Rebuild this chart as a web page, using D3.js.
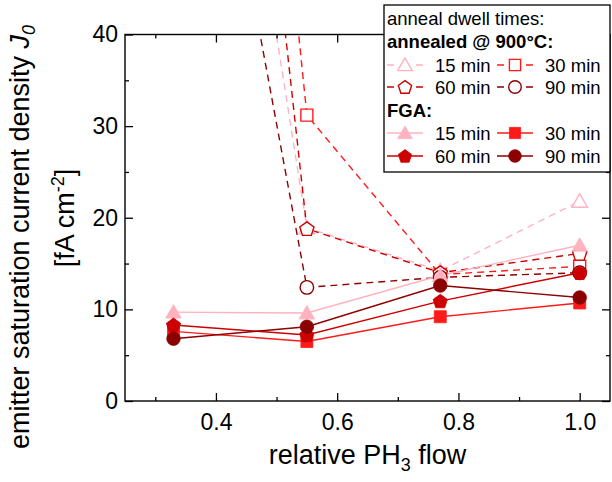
<!DOCTYPE html>
<html>
<head>
<meta charset="utf-8">
<script src="https://cdn.jsdelivr.net/npm/d3@7"></script>
<style>
  body { margin: 0; background: #fff; }
  svg { font-family: "Liberation Sans", Arial, sans-serif; }
</style>
</head>
<body>
<svg id="chart" width="612" height="482"></svg>
<script>
// relative PH3 flow (x positions)
var xFlow = [0.33, 0.55, 0.77, 1.0];

// annealed @ 900 C (open markers, dashed) - first point is off the top of the chart
var annealed15 = [111, 18.9, 14.2, 21.8];
var annealed30 = [174, 31.2, 13.8, 14.7];
var annealed60 = [151, 18.8, 14.0, 16.1];
var annealed90 = [91, 12.4, 13.5, 14.0];

// FGA (filled markers, solid)
var fga15 = [9.7, 9.6, 13.7, 17.0];
var fga30 = [7.6, 6.5, 9.2, 10.7];
var fga60 = [8.3, 7.2, 10.9, 14.0];
var fga90 = [6.8, 8.1, 12.6, 11.3];

var dwellLabels = ["15 min", "30 min", "60 min", "90 min"];
var xTicks = [0.4, 0.6, 0.8, 1.0];
var xMinor = [0.3, 0.5, 0.7, 0.9];
var yTicks = [0, 10, 20, 30, 40];
var yMinor = [5, 15, 25, 35];

var colors = ["#ffb3c0", "#ff1a1a", "#cc0000", "#8b0000"];
var shapes = ["triangle", "square", "pentagon", "circle"];

var series = [
  {values: annealed15, i: 0, open: true},
  {values: annealed30, i: 1, open: true},
  {values: annealed60, i: 2, open: true},
  {values: annealed90, i: 3, open: true},
  {values: fga15, i: 0, open: false},
  {values: fga30, i: 1, open: false},
  {values: fga60, i: 2, open: false},
  {values: fga90, i: 3, open: false}
];

var margin = {left: 125, top: 34.5, right: 2, bottom: 81};
var width = 612 - margin.left - margin.right;
var height = 482 - margin.top - margin.bottom;

var svg = d3.select("#chart");

var xScale = d3.scaleLinear().domain([0.25, 1.05]).range([0, width]);
var yScale = d3.scaleLinear().domain([0, 40]).range([height, 0]);

function markerPath(shape, s) {
  if (shape == "circle") {
    return d3.arc()({innerRadius: 0, outerRadius: s * 0.45, startAngle: 0, endAngle: 2 * Math.PI});
  }
  if (shape == "square") {
    var h = s * 0.4;
    return "M" + (-h) + "," + (-h) + "H" + h + "V" + h + "H" + (-h) + "Z";
  }
  if (shape == "triangle") {
    var w = s * 0.52, t = s * 0.5;
    return "M0," + (-t) + "L" + w + "," + (t * 0.8) + "L" + (-w) + "," + (t * 0.8) + "Z";
  }
  // pentagon
  var r = s * 0.5, pts = [];
  for (var k = 0; k < 5; k++) {
    var a = -Math.PI / 2 + k * 2 * Math.PI / 5;
    pts.push([r * Math.cos(a), r * Math.sin(a) + 0.6]);
  }
  return "M" + pts.join("L") + "Z";
}

var g = svg.append("g").attr("transform", "translate(" + margin.left + "," + margin.top + ")");

g.append("clipPath").attr("id", "plotClip")
  .append("rect").attr("x", 0).attr("y", 0).attr("width", width).attr("height", height);

var plot = g.append("g").attr("clip-path", "url(#plotClip)");

var line = d3.line()
  .x(function (d, k) { return xScale(xFlow[k]); })
  .y(function (d) { return yScale(d); });

series.forEach(function (s) {
  plot.append("path")
    .attr("d", line(s.values))
    .attr("fill", "none")
    .attr("stroke", colors[s.i])
    .attr("stroke-width", 1.4)
    .attr("stroke-dasharray", s.open ? "7,5" : null);
});

series.forEach(function (s) {
  plot.selectAll(null)
    .data(s.values)
    .enter()
    .append("path")
    .attr("transform", function (d, k) { return "translate(" + xScale(xFlow[k]) + "," + yScale(d) + ")"; })
    .attr("d", markerPath(shapes[s.i], 15))
    .attr("fill", s.open ? "#fff" : colors[s.i])
    .attr("stroke", colors[s.i])
    .attr("stroke-width", s.open ? 1.4 : 0.8);
});

// axes, ticks pointing inward
function styleAxis(sel) {
  sel.select(".domain").remove();
  sel.selectAll("line").attr("stroke", "#000").attr("stroke-width", 1.3);
  sel.selectAll("text").attr("fill", "#000").style("font-size", "23px");
}

var fmt = d3.format(".1f");

g.append("g").attr("transform", "translate(0," + height + ")")
  .call(d3.axisBottom(xScale).tickValues(xTicks).tickFormat(fmt).tickSizeInner(-8).tickPadding(13))
  .call(styleAxis);
g.append("g").attr("transform", "translate(0," + height + ")")
  .call(d3.axisBottom(xScale).tickValues(xMinor).tickFormat("").tickSizeInner(-4))
  .call(styleAxis);
g.append("g")
  .call(d3.axisTop(xScale).tickValues(xTicks).tickFormat("").tickSizeInner(-8))
  .call(styleAxis);
g.append("g")
  .call(d3.axisTop(xScale).tickValues(xMinor).tickFormat("").tickSizeInner(-4))
  .call(styleAxis);

g.append("g")
  .call(d3.axisLeft(yScale).tickValues(yTicks).tickFormat(d3.format("d")).tickSizeInner(-8).tickPadding(7))
  .call(styleAxis);
g.append("g")
  .call(d3.axisLeft(yScale).tickValues(yMinor).tickFormat("").tickSizeInner(-4))
  .call(styleAxis);
g.append("g").attr("transform", "translate(" + width + ",0)")
  .call(d3.axisRight(yScale).tickValues(yTicks).tickFormat("").tickSizeInner(-8))
  .call(styleAxis);
g.append("g").attr("transform", "translate(" + width + ",0)")
  .call(d3.axisRight(yScale).tickValues(yMinor).tickFormat("").tickSizeInner(-4))
  .call(styleAxis);

g.append("rect")
  .attr("width", width).attr("height", height)
  .attr("fill", "none").attr("stroke", "#000").attr("stroke-width", 1.4);

// axis titles
var xTitle = svg.append("text")
  .attr("x", margin.left + width / 2).attr("y", 464)
  .attr("text-anchor", "middle").style("font-size", "27px");
xTitle.append("tspan").text("relative PH");
xTitle.append("tspan").attr("dy", 7).style("font-size", "18px").text("3");
xTitle.append("tspan").attr("dy", -7).text(" flow");

var yTitle1 = svg.append("text")
  .attr("transform", "translate(29,237) rotate(-90)")
  .attr("text-anchor", "middle").style("font-size", "27px");
yTitle1.append("tspan").text("emitter saturation current density ");
yTitle1.append("tspan").style("font-style", "italic").text("J");
yTitle1.append("tspan").attr("dy", 6).style("font-style", "italic").style("font-size", "18px").text("0");

var yTitle2 = svg.append("text")
  .attr("transform", "translate(74,218) rotate(-90)")
  .attr("text-anchor", "middle").style("font-size", "27px");
yTitle2.append("tspan").text("[fA cm");
yTitle2.append("tspan").attr("dy", -10).style("font-size", "18px").text("-2");
yTitle2.append("tspan").attr("dy", 10).text("]");

// legend
var leg = svg.append("g");
leg.append("rect")
  .attr("x", 384).attr("y", 5).attr("width", 226).attr("height", 167)
  .attr("fill", "#fff").attr("stroke", "#000").attr("stroke-width", 1.3);

leg.append("text").attr("x", 387).attr("y", 25).style("font-size", "18.5px").text("anneal dwell times:");
leg.append("text").attr("x", 387).attr("y", 48).style("font-size", "18.5px").style("font-weight", "bold").text("annealed @ 900°C:");
leg.append("text").attr("x", 387).attr("y", 117).style("font-size", "18.5px").style("font-weight", "bold").text("FGA:");

var rowY = [72, 94, 140, 163];
var colX = [405, 515];

series.forEach(function (s, n) {
  var row = (s.open ? 0 : 2) + Math.floor(s.i / 2);
  var cx = colX[s.i % 2];
  var cy = rowY[row] - 7;
  var item = leg.append("g").attr("transform", "translate(" + cx + "," + cy + ")");
  item.append("line")
    .attr("x1", -18).attr("x2", 18).attr("y1", 0).attr("y2", 0)
    .attr("stroke", colors[s.i]).attr("stroke-width", 1.4)
    .attr("stroke-dasharray", s.open ? "7,8,7" : null);
  item.append("path")
    .attr("d", markerPath(shapes[s.i], 14))
    .attr("fill", s.open ? "#fff" : colors[s.i])
    .attr("stroke", colors[s.i])
    .attr("stroke-width", s.open ? 1.4 : 0.8);
  leg.append("text")
    .attr("x", cx + 30).attr("y", rowY[row])
    .style("font-size", "18.5px")
    .text(dwellLabels[s.i]);
});
</script>
</body>
</html>
